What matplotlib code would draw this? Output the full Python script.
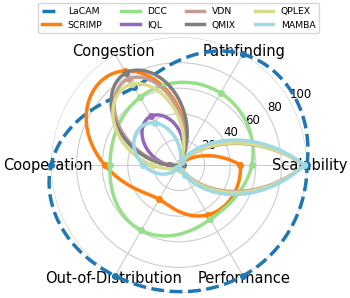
import numpy as np
import matplotlib
matplotlib.use("Agg")
import matplotlib.pyplot as plt

categories = ["Scalability", "Pathfinding", "Congestion", "Cooperation",
              "Out-of-Distribution", "Performance"]
methods = ["LaCAM", "SCRIMP", "DCC", "IQL", "VDN", "QMIX", "QPLEX", "MAMBA"]
lacam = [100, 100, 70, 100, 100, 100]
scrimp = [48, 4, 85, 58, 31, 45]
dcc = [57, 65, 61, 54, 59, 49]
iql = [3, 3, 44, 8, 2, 3]
vdn = [98, 3, 78, 6, 2, 3]
qmix = [3, 3, 83, 8, 2, 3]
qplex = [98, 3, 73, 21, 3, 5]
mamba = [98, 4, 38, 28, 3, 9]
series = [lacam, scrimp, dcc, iql, vdn, qmix, qplex, mamba]
colors = ["#1f77b4", "#ff7f0e", "#98df8a", "#9467bd", "#c49c94", "#7f7f7f",
          "#dbdb8d", "#9edae5"]
rticks = [20, 40, 60, 80, 100]


def natural_spline(x, y, n_out=500):
    """Natural cubic spline through (x, y), uniform knots."""
    x = np.asarray(x, float)
    y = np.asarray(y, float)
    n = len(x) - 1
    h = x[1] - x[0]
    A = np.zeros((n + 1, n + 1))
    b = np.zeros(n + 1)
    A[0, 0] = 1
    A[n, n] = 1
    for k in range(1, n):
        A[k, k - 1:k + 2] = [1, 4, 1]
        b[k] = 6 / h ** 2 * (y[k - 1] - 2 * y[k] + y[k + 1])
    M = np.linalg.solve(A, b)
    t = np.linspace(x[0], x[-1], n_out)
    k = np.minimum(((t - x[0]) // h).astype(int), n - 1)
    tk = x[k]
    a = (tk + h - t) / h
    bb = (t - tk) / h
    s = (a * y[k] + bb * y[k + 1]
         + ((a ** 3 - a) * M[k] + (bb ** 3 - bb) * M[k + 1]) * h ** 2 / 6)
    return t, np.clip(s, 0, None)


fig = plt.figure(figsize=(3.5, 2.98), dpi=100)
ax = fig.add_axes([0.1457, 0.0168, 0.7314, 0.859], projection="polar")
angles = np.arange(len(categories)) * 2 * np.pi / len(categories)
closed_angles = np.append(angles, 2 * np.pi)

for name, vals, c in zip(methods, series, colors):
    t, s = natural_spline(closed_angles, list(vals) + [vals[0]])
    ls = "--" if name == "LaCAM" else "-"
    ax.plot(t, s, ls, color=c, lw=2.5, label=name, clip_on=False)
    ax.plot(angles, vals, "o", color=c, ms=4, clip_on=False)

ax.set_ylim(0, 100)
ax.set_xticks(angles)
ax.set_xticklabels(categories, fontsize=10.5)
ax.set_yticks(rticks)
ax.set_yticklabels([str(v) for v in rticks], fontsize=8.5)
ax.set_rlabel_position(30)
ax.grid(color="#cccccc", lw=0.8)
ax.spines["polar"].set_visible(False)
ax.tick_params(axis="x", pad=-8.5)

fig.legend(loc="upper center", bbox_to_anchor=(0.51, 1.005), ncol=4,
           fontsize=6.7)
fig.savefig("out.png", dpi=100)
